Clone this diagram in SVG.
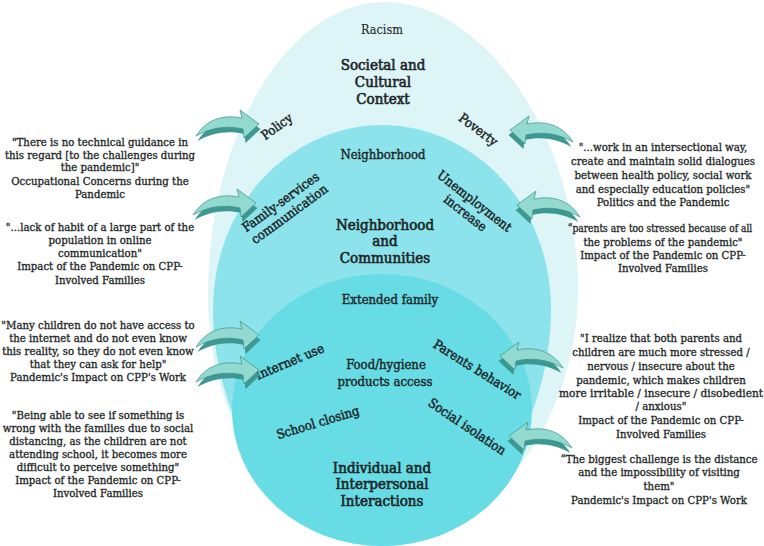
<svg xmlns="http://www.w3.org/2000/svg" xmlns:xlink="http://www.w3.org/1999/xlink" width="764" height="546" viewBox="0 0 764 546">
<defs>
<style>
text{font-family:'DejaVu Serif Condensed','DejaVu Serif',serif;font-stretch:condensed;font-weight:normal;fill:#1c2626;stroke:#1c2626;text-anchor:middle}
.q{font-size:11.3px;stroke-width:0.3}
.qs{font-size:10.2px}
.lbl{font-size:13px;stroke-width:0.45}
.sm{font-size:13px;stroke-width:0.4}
.rac{font-size:12.5px;stroke-width:0.1}
.big{font-size:15px;stroke-width:0.6}
.side{fill:#3c9890}
.face{fill:#92d9cf;stroke:#3f8f88;stroke-width:0.7}
</style>
<g id="arrowR">
<path class="side" d="M0,28 C10,12 26,6 46,10 L44,2 L63,16 L48,30 L47,21 C30,17 14,20 0,28 Z" transform="translate(1.5,3)"/>
<path class="face" d="M0,26 C10,10 26,4 46,8 L44,0 L63,14 L48,28 L47,19 C30,15 14,18 0,26 Z"/>
</g>
</defs>
<rect width="764" height="546" fill="#ffffff"/>
<g id="societal">
<path d="M385,2 C480,2 578,130 578,290 C578,420 490,540 385,546 C280,540 206,420 208,290 C210,130 290,2 385,2 Z" fill="#def5f8"/>
<text class="rac" x="382" y="34">Racism</text>
<text class="big" x="383" y="69.5">Societal and</text>
<text class="big" x="383" y="86.5">Cultural</text>
<text class="big" x="383" y="103.5">Context</text>
<text class="lbl" transform="translate(277,127) rotate(-36)" y="4">Policy</text>
<text class="lbl" transform="translate(478,130) rotate(37)" y="4">Poverty</text>
</g>
<g id="neighborhood">
<path d="M382,125 C470,125 551,200 551,310 C551,420 480,546 382,546 C284,546 213,420 213,310 C213,200 295,125 382,125 Z" fill="#8de3eb"/>
<text class="sm" x="383" y="159">Neighborhood</text>
<g transform="translate(285,208) rotate(-36)">
<text class="lbl" y="-3">Family-services</text>
<text class="lbl" y="12">communication</text>
</g>
<g transform="translate(470,207) rotate(38)">
<text class="lbl" y="-3">Unemployment</text>
<text class="lbl" y="12">increase</text>
</g>
<text class="big" x="385" y="229.5">Neighborhood</text>
<text class="big" x="385" y="246">and</text>
<text class="big" x="385" y="262.5">Communities</text>
</g>
<g id="individual">
<ellipse cx="382" cy="410" rx="150" ry="136" fill="#67dce5"/>
<text class="sm" x="390" y="304">Extended family</text>
<text class="lbl" transform="translate(290,362) rotate(-23)" y="4">Internet use</text>
<text class="sm" x="386" y="369">Food/hygiene</text>
<text class="sm" x="385" y="386">products access</text>
<text class="lbl" transform="translate(477,370) rotate(32)" y="4">Parents behavior</text>
<text class="lbl" transform="translate(318,423) rotate(-17)" y="4">School closing</text>
<text class="lbl" transform="translate(467,427) rotate(34)" y="4">Social isolation</text>
<text class="big" x="382" y="472.5">Individual and</text>
<text class="big" x="382" y="489">Interpersonal</text>
<text class="big" x="382" y="505.5">Interactions</text>
</g>
<g id="q1">
<text class="q" x="100" y="146">"There is no technical guidance in</text>
<text class="q" x="100" y="159">this regard  [to the challenges during</text>
<text class="q" x="100" y="171">the pandemic]"</text>
<text class="q" x="100" y="185">Occupational Concerns during the</text>
<text class="q" x="100" y="198">Pandemic</text>
</g>
<g id="q2">
<text class="q" x="100" y="231">"...lack of habit of a large part of the</text>
<text class="q" x="100" y="244">population in online</text>
<text class="q" x="100" y="257">communication"</text>
<text class="q" x="100" y="270">Impact of the Pandemic on CPP-</text>
<text class="q" x="100" y="284">Involved Families</text>
</g>
<g id="q3">
<text class="q" x="98" y="329">"Many children do not have access to</text>
<text class="q" x="98" y="342">the internet and do not even know</text>
<text class="q" x="98" y="355">this reality, so they do not even know</text>
<text class="q" x="98" y="368">that they can ask for help"</text>
<text class="q" x="98" y="381">Pandemic's Impact on CPP's Work</text>
</g>
<g id="q4">
<text class="q" x="98" y="419">"Being able to see if something is</text>
<text class="q" x="98" y="432">wrong with the families due to social</text>
<text class="q" x="98" y="445">distancing, as the children are not</text>
<text class="q" x="98" y="458">attending school, it becomes more</text>
<text class="q" x="98" y="471">difficult to perceive something"</text>
<text class="q" x="98" y="484">Impact of the Pandemic on CPP-</text>
<text class="q" x="98" y="497">Involved Families</text>
</g>
<g id="q5">
<text class="q" x="663" y="151">"...work in an intersectional way,</text>
<text class="q" x="663" y="165">create and maintain solid dialogues</text>
<text class="q" x="663" y="179">between health policy, social work</text>
<text class="q" x="663" y="193">and especially education policies"</text>
<text class="q" x="663" y="206">Politics and the Pandemic</text>
</g>
<g id="q6">
<text class="q qs" x="660" y="232">“parents are too stressed because of all</text>
<text class="q" x="663" y="246">the problems of the pandemic"</text>
<text class="q" x="663" y="259">Impact of the Pandemic on CPP-</text>
<text class="q" x="663" y="272">Involved Families</text>
</g>
<g id="q7">
<text class="q" x="661" y="342">"I realize that both parents and</text>
<text class="q" x="661" y="356">children are much more stressed /</text>
<text class="q" x="661" y="370">nervous / insecure about the</text>
<text class="q" x="661" y="384">pandemic, which makes children</text>
<text class="q" x="661" y="397" textLength="204" lengthAdjust="spacingAndGlyphs">more irritable / insecure / disobedient</text>
<text class="q" x="661" y="410">/ anxious"</text>
<text class="q" x="661" y="424">Impact of the Pandemic on CPP-</text>
<text class="q" x="661" y="438">Involved Families</text>
</g>
<g id="q8">
<text class="q" x="659" y="463">“The biggest challenge is the distance</text>
<text class="q" x="659" y="476">and  the impossibility of visiting</text>
<text class="q" x="659" y="490">them"</text>
<text class="q" x="659" y="504">Pandemic's Impact on CPP's Work</text>
</g>
<g id="connectors">
<use xlink:href="#arrowR" href="#arrowR" transform="translate(196,110)"/>
<use xlink:href="#arrowR" href="#arrowR" transform="translate(193,189)"/>
<use xlink:href="#arrowR" href="#arrowR" transform="translate(196,321)"/>
<use xlink:href="#arrowR" href="#arrowR" transform="translate(196,356)"/>
<use xlink:href="#arrowR" href="#arrowR" transform="translate(573,116) scale(-1,1)"/>
<use xlink:href="#arrowR" href="#arrowR" transform="translate(580,191) scale(-1,1)"/>
<use xlink:href="#arrowR" href="#arrowR" transform="translate(563,342) scale(-1,1)"/>
<use xlink:href="#arrowR" href="#arrowR" transform="translate(572,422) scale(-1,1)"/>
</g>
</svg>
